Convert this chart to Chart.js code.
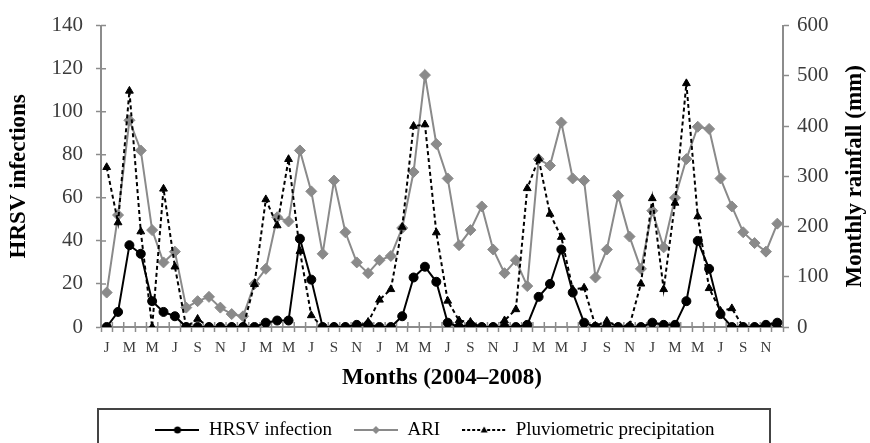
<!DOCTYPE html>
<html>
<head>
<meta charset="utf-8">
<script src="https://cdn.jsdelivr.net/npm/chart.js@4.4.1/dist/chart.umd.min.js"></script>
<style>
  html, body { margin: 0; padding: 0; background: #fff; overflow: hidden; }
  #wrap { width: 870px; height: 460px; }
</style>
</head>
<body>
<div id="wrap"><canvas id="chart" width="870" height="460"></canvas></div>
<script>
// x ticks: only every other month gets an initial (Jan, Mar, May, Jul, Sep, Nov)
const monthLabels = [
  "J", "", "M", "", "M", "", "J", "", "S", "", "N", "",   // 2004
  "J", "", "M", "", "M", "", "J", "", "S", "", "N", "",   // 2005
  "J", "", "M", "", "M", "", "J", "", "S", "", "N", "",   // 2006
  "J", "", "M", "", "M", "", "J", "", "S", "", "N", "",   // 2007
  "J", "", "M", "", "M", "", "J", "", "S", "", "N", ""    // 2008
];

// HRSV positive cases per month (left axis)
const hrsvCases = [
  0, 7, 38, 34, 12, 7, 5, 0, 0, 0, 0, 0,
  0, 0, 2, 3, 3, 41, 22, 0, 0, 0, 1, 1,
  0, 0, 5, 23, 28, 21, 2, 0, 1, 0, 0, 0,
  0, 1, 14, 20, 36, 16, 2, 0, 0, 0, 0, 0,
  2, 1, 1, 12, 40, 27, 6, 0, 0, 0, 1, 2
];

// acute respiratory infections per month (left axis)
const ariCases = [
  16, 52, 96, 82, 45, 30, 35, 9, 12, 14, 9, 6,
  5, 20, 27, 51, 49, 82, 63, 34, 68, 44, 30, 25,
  31, 33, 46, 72, 117, 85, 69, 38, 45, 56, 36, 25,
  31, 19, 78, 75, 95, 69, 68, 23, 36, 61, 42, 27,
  54, 37, 60, 78, 93, 92, 69, 56, 44, 39, 35, 48
];

// monthly rainfall in mm (right axis)
const rainfallMm = [
  318, 208, 470, 190, 0, 275, 120, 0, 16, 0, 0, 0,
  0, 85, 254, 202, 334, 151, 23, 0, 0, 0, 0, 10,
  54, 75, 199, 400, 403, 188, 52, 13, 10, 0, 0, 13,
  35, 276, 335, 225, 179, 75, 78, 2, 12, 0, 3, 86,
  256, 75, 247, 485, 220, 77, 32, 37, 0, 0, 2, 5
];

const SERIF = "'Liberation Serif', 'Times New Roman', serif";
const AXIS_GRAY = "#8c8c8c";
const ARI_GRAY = "#8a8a8a";
const TICK_TEXT = "#3c3c3c";

/**
 * Legend sample: a short line with the series marker in the middle
 */
function makeSwatch(color, dashed, marker) {
  const c = document.createElement("canvas");
  c.width = 44;
  c.height = 14;
  const g = c.getContext("2d");
  g.strokeStyle = color;
  g.fillStyle = color;
  g.lineWidth = 2;
  if (dashed) g.setLineDash([3, 2]);
  g.beginPath();
  g.moveTo(0, 7);
  g.lineTo(44, 7);
  g.stroke();
  g.setLineDash([]);
  g.beginPath();
  if (marker === "circle") {
    g.arc(22, 7, 3.5, 0, Math.PI * 2);
  } else if (marker === "diamond") {
    g.moveTo(22, 3); g.lineTo(26, 7); g.lineTo(22, 11); g.lineTo(18, 7);
  } else {
    g.moveTo(22, 3.5); g.lineTo(25.5, 9.5); g.lineTo(18.5, 9.5);
  }
  g.closePath();
  g.fill();
  return c;
}

const swatches = [
  makeSwatch("#000", false, "circle"),
  makeSwatch(ARI_GRAY, false, "diamond"),
  makeSwatch("#000", true, "triangle")
];

/**
 * Short tick marks on the inner side of the left and bottom axes
 */
const innerTicks = {
  id: "innerTicks",
  beforeDatasetsDraw(chart) {
    const { ctx, chartArea, scales } = chart;
    ctx.save();
    ctx.strokeStyle = AXIS_GRAY;
    ctx.lineWidth = 1.5;
    ctx.beginPath();
    scales.y.ticks.forEach((t, i) => {
      const py = scales.y.getPixelForTick(i);
      ctx.moveTo(chartArea.left, py);
      ctx.lineTo(chartArea.left + 5, py);
    });
    for (let i = 0; i <= monthLabels.length; i++) {
      const px = scales.x.getPixelForValue(i - 0.5);
      ctx.moveTo(px, chartArea.bottom);
      ctx.lineTo(px, chartArea.bottom - 5);
    }
    ctx.stroke();
    ctx.restore();
  }
};

/**
 * Right axis title reads bottom-to-top like the left one, and the legend sits in a frame
 */
const extras = {
  id: "extras",
  afterDraw(chart) {
    const { ctx, chartArea, legend } = chart;
    ctx.save();
    ctx.translate(chart.width - 15, (chartArea.top + chartArea.bottom) / 2);
    ctx.rotate(-Math.PI / 2);
    ctx.font = "bold 23px " + SERIF;
    ctx.fillStyle = "#000";
    ctx.textAlign = "center";
    ctx.textBaseline = "middle";
    ctx.fillText("Monthly rainfall (mm)", 0, 0);
    ctx.restore();

    const hb = legend.legendHitBoxes[0];
    ctx.save();
    ctx.strokeStyle = "#444";
    ctx.lineWidth = 2;
    ctx.strokeRect(chartArea.left - 3, hb.top - 11.5, chartArea.right - chartArea.left - 10, 80);
    ctx.restore();
  }
};

new Chart(document.getElementById("chart"), {
  type: "line",
  data: {
    labels: monthLabels,
    datasets: [
      {
        label: "HRSV infection",
        data: hrsvCases,
        yAxisID: "y",
        order: 0,
        borderColor: "#000",
        backgroundColor: "#000",
        borderWidth: 2,
        pointStyle: "circle",
        pointRadius: 4.5,
        pointBorderWidth: 1,
        tension: 0
      },
      {
        label: "ARI",
        data: ariCases,
        yAxisID: "y",
        order: 2,
        borderColor: ARI_GRAY,
        backgroundColor: ARI_GRAY,
        borderWidth: 2,
        pointStyle: "rectRot",
        pointRadius: 5.5,
        pointBorderWidth: 1,
        tension: 0
      },
      {
        label: "Pluviometric precipitation",
        data: rainfallMm,
        yAxisID: "y1",
        order: 1,
        borderColor: "#000",
        backgroundColor: "#000",
        borderWidth: 2,
        borderDash: [4, 3],
        pointStyle: "triangle",
        pointRadius: 4.5,
        pointBorderWidth: 1,
        tension: 0
      }
    ]
  },
  options: {
    responsive: false,
    animation: false,
    layout: { padding: { top: 22, left: 0, right: 0, bottom: 10.5 } },
    plugins: {
      tooltip: { enabled: false },
      legend: {
        position: "bottom",
        align: "center",
        labels: {
          usePointStyle: true,
          pointStyleWidth: 44,
          padding: 22,
          color: "#000",
          font: { family: SERIF, size: 19 },
          generateLabels(chart) {
            return chart.data.datasets.map((ds, i) => ({
              text: ds.label,
              datasetIndex: i,
              pointStyle: swatches[i],
              fillStyle: ds.borderColor,
              strokeStyle: ds.borderColor,
              lineWidth: 0,
              hidden: false
            }));
          }
        }
      }
    },
    scales: {
      x: {
        type: "category",
        offset: true,
        grid: { display: true, drawOnChartArea: false, offset: true, tickLength: 5, tickColor: AXIS_GRAY, tickWidth: 1.5 },
        border: { display: true, color: AXIS_GRAY, width: 2 },
        ticks: { autoSkip: false, maxRotation: 0, minRotation: 0, padding: 7, color: TICK_TEXT, font: { family: SERIF, size: 15 } },
        title: {
          display: true,
          text: "Months (2004\u20132008)",
          color: "#000",
          font: { family: SERIF, size: 23, weight: "bold" },
          padding: { top: 0, bottom: 6.7 }
        },
        afterFit(scale) { scale.height = 71.5; }
      },
      y: {
        position: "left",
        min: 0,
        max: 140,
        grid: { display: true, drawOnChartArea: false, tickLength: 5, tickColor: AXIS_GRAY, tickWidth: 1.5 },
        border: { display: true, color: AXIS_GRAY, width: 2 },
        ticks: { stepSize: 20, padding: 13, color: TICK_TEXT, font: { family: SERIF, size: 21 } },
        title: {
          display: true,
          text: "HRSV infections",
          color: "#000",
          font: { family: SERIF, size: 23, weight: "bold" },
          padding: { top: 5, bottom: 0 }
        },
        afterFit(scale) { scale.width = 101; }
      },
      y1: {
        position: "right",
        min: 0,
        max: 600,
        grid: { display: true, drawOnChartArea: false, tickLength: 6, tickColor: AXIS_GRAY, tickWidth: 1.5 },
        border: { display: true, color: AXIS_GRAY, width: 2 },
        ticks: { stepSize: 100, padding: 8, color: TICK_TEXT, font: { family: SERIF, size: 21 } },
        afterFit(scale) { scale.width = 87; }
      }
    }
  },
  plugins: [innerTicks, extras]
});
</script>
</body>
</html>
